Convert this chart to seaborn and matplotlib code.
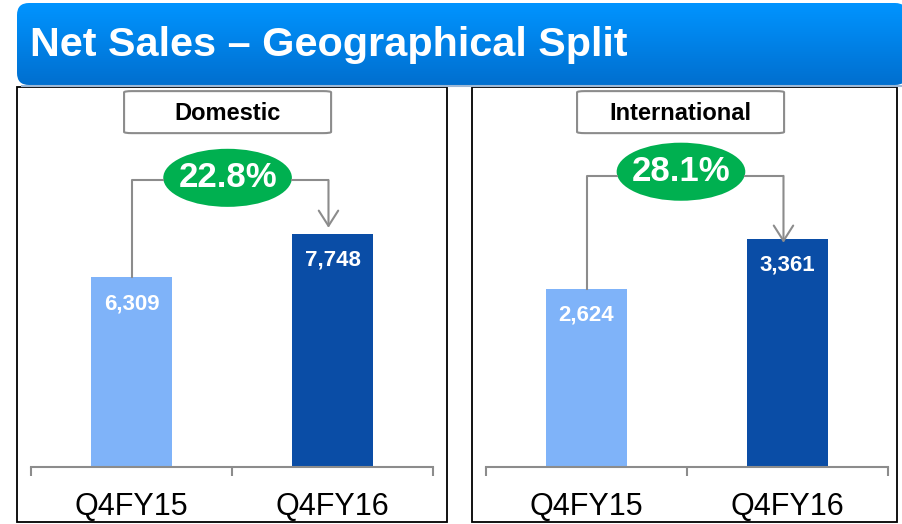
import numpy as np
import matplotlib
matplotlib.use("Agg")
import matplotlib.pyplot as plt
import seaborn as sns
from matplotlib.patches import Ellipse, FancyBboxPatch, Rectangle
from matplotlib.colors import LinearSegmentedColormap

# data
quarters = ["Q4FY15", "Q4FY16"]
domestic = [6309, 7748]
international = [2624, 3361]
growth = ["22.8%", "28.1%"]
panel_titles = ["Domestic", "International"]
title = "Net Sales – Geographical Split"

light_blue = "#7FB3F9"
dark_blue = "#0A4DA6"
green = "#00B050"
grey = "#8C8C8C"

plt.rcParams["font.family"] = ["Liberation Sans", "DejaVu Sans"]

fig = plt.figure(figsize=(9.02, 5.24), dpi=100)
fig.patch.set_facecolor("white")

# background layer in pixel coordinates: banner + panel frames
bg = fig.add_axes([0, 0, 1, 1], zorder=0)
bg.axis("off")
banner = FancyBboxPatch((17, 3), 890, 82, boxstyle="round,pad=0,rounding_size=12",
                        linewidth=0, facecolor="none")
bg.add_patch(banner)
cmap = LinearSegmentedColormap.from_list("banner", ["#0094FF", "#006FCF"])
im = bg.imshow(np.linspace(0, 1, 100).reshape(-1, 1), cmap=cmap, aspect="auto",
               extent=(17, 907, 85, 3), origin="upper")
im.set_clip_path(banner)
bg.plot([22, 902], [86, 86], color="#9DB8D6", lw=1.5)
bg.text(30, 45, title, color="white", fontsize=29.8, fontweight="bold", va="center", ha="left")
for x0, x1 in [(17, 447), (472, 897)]:
    bg.add_patch(Rectangle((x0, 87), x1 - x0, 435, fill=False, edgecolor="black", lw=1.3))
bg.set_xlim(0, 902)
bg.set_ylim(524, 0)

panels = [
    dict(values=domestic, left=31, top=12700, level=0.751, ell=(0.478, 0.757), box_x=0.478, tip=0.016),
    dict(values=international, left=486, top=5630, level=0.762, ell=(0.470, 0.773), box_x=0.468, tip=-0.010),
]

for i, p in enumerate(panels):
    ax = fig.add_axes([p["left"] / 902, 57 / 524, 402 / 902, 382 / 524], zorder=1)
    ax.set_facecolor("none")
    vals = p["values"]
    top = p["top"]
    sns.barplot(x=quarters, y=vals, hue=quarters, palette=[light_blue, dark_blue],
                width=0.4, saturation=1, legend=False, ax=ax)
    ax.set_xlim(-0.5, 1.5)
    ax.set_ylim(0, top)
    ax.set_xlabel("")
    ax.set_ylabel("")
    ax.set_yticks([])
    for s in ["left", "right", "top"]:
        ax.spines[s].set_visible(False)
    ax.spines["bottom"].set_color(grey)
    ax.spines["bottom"].set_linewidth(1.5)
    ax.set_xticks([-0.5, 0.5, 1.5], minor=True)
    ax.tick_params(axis="x", which="minor", length=6.5, width=1.5, color=grey, direction="out")
    ax.tick_params(axis="x", which="major", length=0, pad=18, labelsize=22, labelcolor="black")

    # value labels inside bars
    for j, v in enumerate(vals):
        ax.annotate(f"{v:,}", (j, v), xytext=(0, -19), textcoords="offset points",
                    ha="center", va="center", color="white", fontsize=16, fontweight="bold")

    # category box
    bw, bh = 1.03, 0.11 * top
    bx, by = p["box_x"], 0.929 * top
    ax.add_patch(FancyBboxPatch((bx - bw / 2, by - bh / 2), bw, bh,
                                boxstyle="round,pad=0,rounding_size=0.04", mutation_aspect=top / 12,
                                facecolor="white", edgecolor=grey, lw=1.5, clip_on=False))
    ax.text(bx, by - 0.004 * top, panel_titles[i], ha="center", va="center", fontsize=17, fontweight="bold")

    # growth connector
    lvl = p["level"] * top
    ex, ey = p["ell"]
    ew, eh = 0.64, 0.152 * top
    ax.plot([0, 0, ex - ew / 2], [vals[0], lvl, lvl], color=grey, lw=1.5, clip_on=False)
    ax.plot([ex + ew / 2, 0.98], [lvl, lvl], color=grey, lw=1.5, clip_on=False)
    ax.annotate("", xy=(0.98, vals[1] + p["tip"] * top), xytext=(0.98, lvl),
                arrowprops=dict(arrowstyle="->,head_length=1.1,head_width=0.7", color=grey,
                                lw=1.5, shrinkA=0, shrinkB=0))
    ax.add_patch(Ellipse((ex, ey * top), ew, eh, facecolor=green, edgecolor="none", clip_on=False))
    ax.text(ex, ey * top, growth[i], ha="center", va="center", color="white",
            fontsize=25, fontweight="bold")

fig.savefig("out.png", dpi=100)
